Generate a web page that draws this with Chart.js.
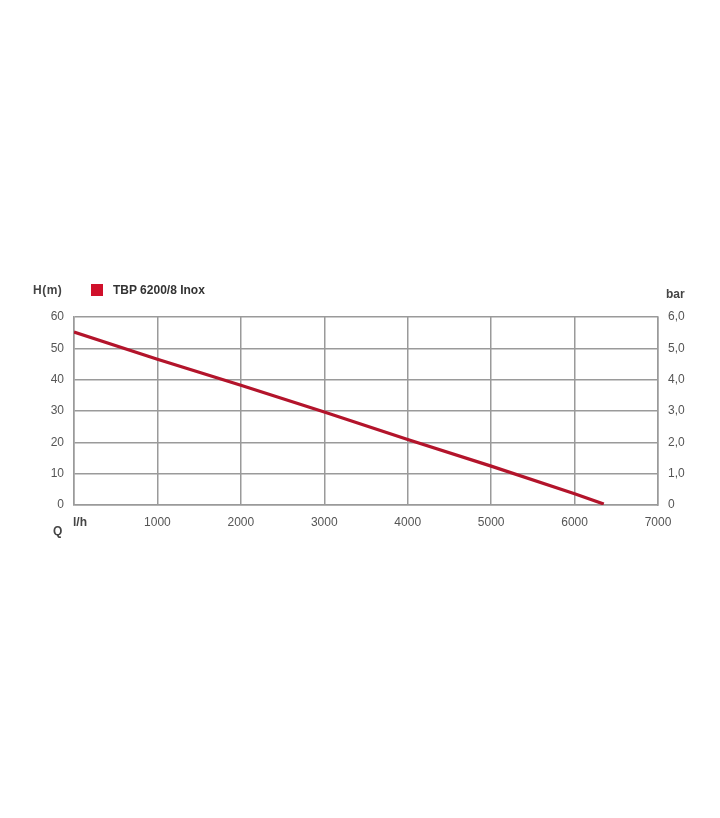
<!DOCTYPE html>
<html>
<head>
<meta charset="utf-8">
<script src="https://cdn.jsdelivr.net/npm/chart.js@4"></script>
<style>
  html, body { margin: 0; padding: 0; background: #fff; }
  #wrap { position: relative; width: 720px; height: 818px; }
  #chart { position: absolute; left: 0; top: 0; }
  .lbl { position: absolute; font-family: "Liberation Sans", Arial, sans-serif; color: #444; font-size: 12px; font-weight: bold; line-height: 14px; white-space: nowrap; }
  .sw { position: absolute; width: 12px; height: 12px; background: #d0102b; }
</style>
</head>
<body>
<div id="wrap">
  <canvas id="chart" width="720" height="818"></canvas>
  <div class="lbl" style="left:33px; top:283px; letter-spacing:0.5px;">H(m)</div>
  <div class="sw" style="left:91px; top:284px;"></div>
  <div class="lbl" id="legendText" style="left:113px; top:283px; color:#333;"></div>
  <div class="lbl" style="left:666px; top:287px;">bar</div>
  <div class="lbl" id="unitText" style="left:73px; top:515px;"></div>
  <div class="lbl" style="left:53px; top:524px;">Q</div>
</div>
<script>
// pump curve: flow (l/h) vs head (m)
const seriesName = 'TBP 6200/8 Inox';
const flow = [0, 1000, 2000, 3000, 4000, 5000, 6000, 6350];
const head = [55.2, 46.5, 38.2, 29.7, 20.9, 12.4, 3.6, 0.3];
const headTicks = [0, 10, 20, 30, 40, 50, 60];
const barTicks = ['0', '1,0', '2,0', '3,0', '4,0', '5,0', '6,0'];
const flowTicks = ['l/h', '1000', '2000', '3000', '4000', '5000', '6000', '7000'];

document.getElementById('legendText').textContent = seriesName;
// first flow tick is the unit, set bold just right of the axis start
document.getElementById('unitText').textContent = flowTicks[0];

const points = flow.map((q, i) => ({x: q, y: head[i]}));
const gridColor = '#9a9a9a';
const font = {family: '"Liberation Sans", Arial, sans-serif', size: 12};

new Chart(document.getElementById('chart'), {
  type: 'line',
  data: {
    datasets: [{
      label: seriesName,
      data: points,
      borderColor: '#b3142b',
      borderWidth: 3.2,
      pointRadius: 0,
      tension: 0,
      yAxisID: 'y'
    }]
  },
  options: {
    responsive: false,
    animation: false,
    layout: {padding: {top: 317}},
    plugins: {legend: {display: false}, tooltip: {enabled: false}},
    scales: {
      x: {
        type: 'linear', min: 0, max: 7000,
        afterFit: s => { s.height = 313; },
        afterBuildTicks: s => { s.ticks = flowTicks.map((t, i) => ({value: i * 1000})); },
        ticks: {
          padding: 10, color: '#555', font: font,
          callback: (v, i) => i === 0 ? '' : flowTicks[i]
        },
        grid: {color: gridColor, lineWidth: 1.5, drawTicks: false},
        border: {color: gridColor, width: 1.5}
      },
      y: {
        position: 'left', min: 0, max: 60,
        afterFit: s => { s.width = 74; },
        afterBuildTicks: s => { s.ticks = headTicks.map(v => ({value: v})); },
        ticks: {padding: 10, color: '#555', font: font},
        grid: {color: gridColor, lineWidth: 1.5, drawTicks: false},
        border: {color: gridColor, width: 1.5}
      },
      y2: {
        position: 'right', min: 0, max: 6,
        afterFit: s => { s.width = 62; },
        afterBuildTicks: s => { s.ticks = barTicks.map((t, i) => ({value: i})); },
        ticks: {padding: 10, color: '#555', font: font, callback: (v, i) => barTicks[i]},
        grid: {drawOnChartArea: false, drawTicks: false},
        border: {color: gridColor, width: 1.5}
      }
    }
  }
});
</script>
</body>
</html>
